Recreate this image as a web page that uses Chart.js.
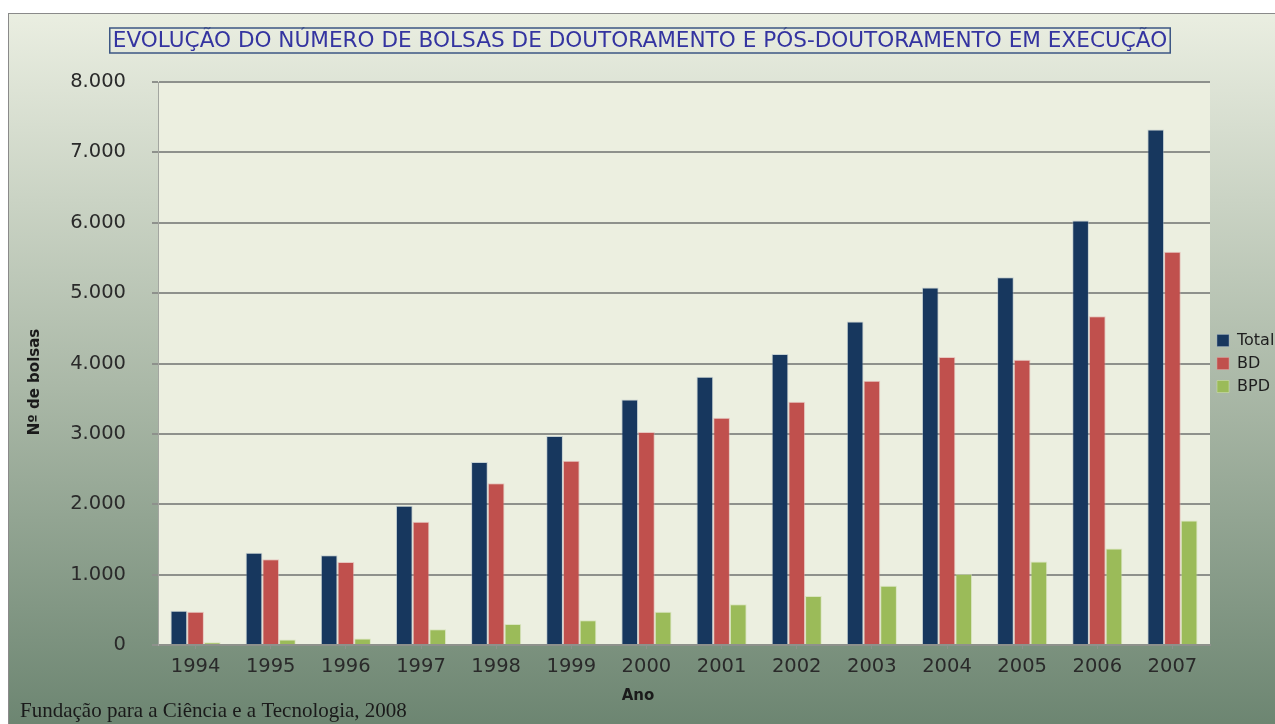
<!DOCTYPE html>
<html>
<head>
<meta charset="utf-8">
<script src="https://cdn.jsdelivr.net/npm/chart.js@4.4.1/dist/chart.umd.min.js"></script>
<style>
  html, body { margin: 0; padding: 0; background: #ffffff; overflow: hidden; }
  #moldura {
    position: absolute; left: 8px; top: 13px; width: 1280px; height: 720px;
    border: 1px solid #8a8a8a;
    background: linear-gradient(to bottom, #eaeee1 0%, #aab8a7 52%, #6b8470 100%);
  }
  #caixa { position: absolute; left: 0; top: 0; width: 1275px; height: 724px; }
</style>
</head>
<body>
<div id="moldura"></div>
<div id="caixa"><canvas id="graficoBolsas" width="1275" height="724"></canvas></div>
<script>
// dados
var anos = ['1994', '1995', '1996', '1997', '1998', '1999', '2000',
            '2001', '2002', '2003', '2004', '2005', '2006', '2007'];
var total = [485, 1312, 1275, 1980, 2600, 2969, 3490, 3812, 4134, 4598, 5081, 5227, 6033, 7325];
var bd    = [471, 1218, 1180, 1753, 2297, 2619, 3026, 3230, 3457, 3756, 4091, 4054, 4673, 5588];
var bpd   = [38, 77, 91, 224, 300, 352, 471, 580, 695, 842, 1010, 1185, 1370, 1770];
var nomesSeries = ['Total', 'BD', 'BPD'];
var valoresEixoY = [0, 1000, 2000, 3000, 4000, 5000, 6000, 7000, 8000];

var titulo = 'EVOLUÇÃO DO NÚMERO DE BOLSAS DE DOUTORAMENTO E PÓS-DOUTORAMENTO EM EXECUÇÃO';
var tituloX = 'Ano';
var tituloY = 'Nº de bolsas';
var fonteDados = 'Fundação para a Ciência e a Tecnologia, 2008';

function milhares(v) {
  return String(v).replace(/\B(?=(\d{3})+(?!\d))/g, '.');
}

// fundo da area do grafico + textos extra
var extrasPlugin = {
  id: 'extras',
  beforeDraw: function (chart) {
    var ctx = chart.ctx, a = chart.chartArea;
    ctx.save();
    ctx.fillStyle = '#ecefe0';
    ctx.fillRect(a.left, a.top, a.right - a.left, a.bottom - a.top);
    ctx.restore();
  },
  afterDraw: function (chart) {
    var ctx = chart.ctx;
    ctx.save();
    // titulo com moldura
    ctx.font = "21.6px 'DejaVu Sans'";
    ctx.textAlign = 'center';
    ctx.textBaseline = 'middle';
    ctx.fillStyle = '#3434a0';
    ctx.fillText(titulo, 640, 41);
    var w = ctx.measureText(titulo).width;
    ctx.strokeStyle = '#3c5684';
    ctx.lineWidth = 1.5;
    ctx.strokeRect(640 - w / 2 - 3, 28, w + 6, 25);

    // titulos dos eixos
    ctx.font = "bold 15px 'DejaVu Sans'";
    ctx.fillStyle = '#1a1a1a';
    ctx.fillText(tituloX, 638, 696);
    ctx.save();
    ctx.translate(35, 382);
    ctx.rotate(-Math.PI / 2);
    ctx.fillText(tituloY, 0, 0);
    ctx.restore();

    // fonte
    ctx.font = "21px 'Liberation Serif'";
    ctx.textAlign = 'left';
    ctx.textBaseline = 'alphabetic';
    ctx.fillStyle = '#1a1a1a';
    ctx.fillText(fonteDados, 20, 717);
    ctx.restore();
  }
};

var ctx = document.getElementById('graficoBolsas').getContext('2d');
var grafico = new Chart(ctx, {
  type: 'bar',
  data: {
    labels: anos,
    datasets: [
      { label: nomesSeries[0], data: total, backgroundColor: '#17375e', borderColor: 'rgba(150,170,190,0.45)', borderWidth: 1 },
      { label: nomesSeries[1], data: bd, backgroundColor: '#c0504d', borderColor: 'rgba(225,160,160,0.5)', borderWidth: 1 },
      { label: nomesSeries[2], data: bpd, backgroundColor: '#9bbb59', borderColor: 'rgba(205,222,170,0.6)', borderWidth: 1 }
    ]
  },
  options: {
    responsive: false,
    animation: false,
    datasets: { bar: { barPercentage: 1, categoryPercentage: 0.667 } },
    layout: { padding: { top: 82, left: 0, right: 0, bottom: 0 } },
    plugins: {
      title: { display: false },
      tooltip: { enabled: false },
      legend: {
        position: 'right',
        fullSize: false,
        maxWidth: 65,
        labels: {
          boxWidth: 12,
          boxHeight: 12,
          padding: 7,
          color: '#1e1e1e',
          font: { family: 'DejaVu Sans', size: 16 }
        }
      }
    },
    scales: {
      x: {
        grid: { display: true, drawOnChartArea: false, offset: false, tickLength: 4, color: '#8e918c' },
        border: { color: '#8e918c', width: 2 },
        ticks: { padding: 6, autoSkip: false, maxRotation: 0, color: '#2a2a2a', font: { family: 'DejaVu Sans', size: 19.5 } },
        afterFit: function (s) { s.height = 79; }
      },
      y: {
        min: valoresEixoY[0],
        max: valoresEixoY[valoresEixoY.length - 1],
        afterBuildTicks: function (s) {
          s.ticks = valoresEixoY.map(function (v) { return { value: v }; });
        },
        ticks: {
          padding: 26,
          color: '#2a2a2a',
          font: { family: 'DejaVu Sans', size: 19.5 },
          callback: function (v) { return milhares(v); }
        },
        grid: { color: '#8e918c', lineWidth: 2, tickLength: 6 },
        border: { color: '#a3a6a0', width: 1 },
        afterFit: function (s) { s.width = 158; }
      }
    }
  },
  plugins: [extrasPlugin]
});
</script>
</body>
</html>
